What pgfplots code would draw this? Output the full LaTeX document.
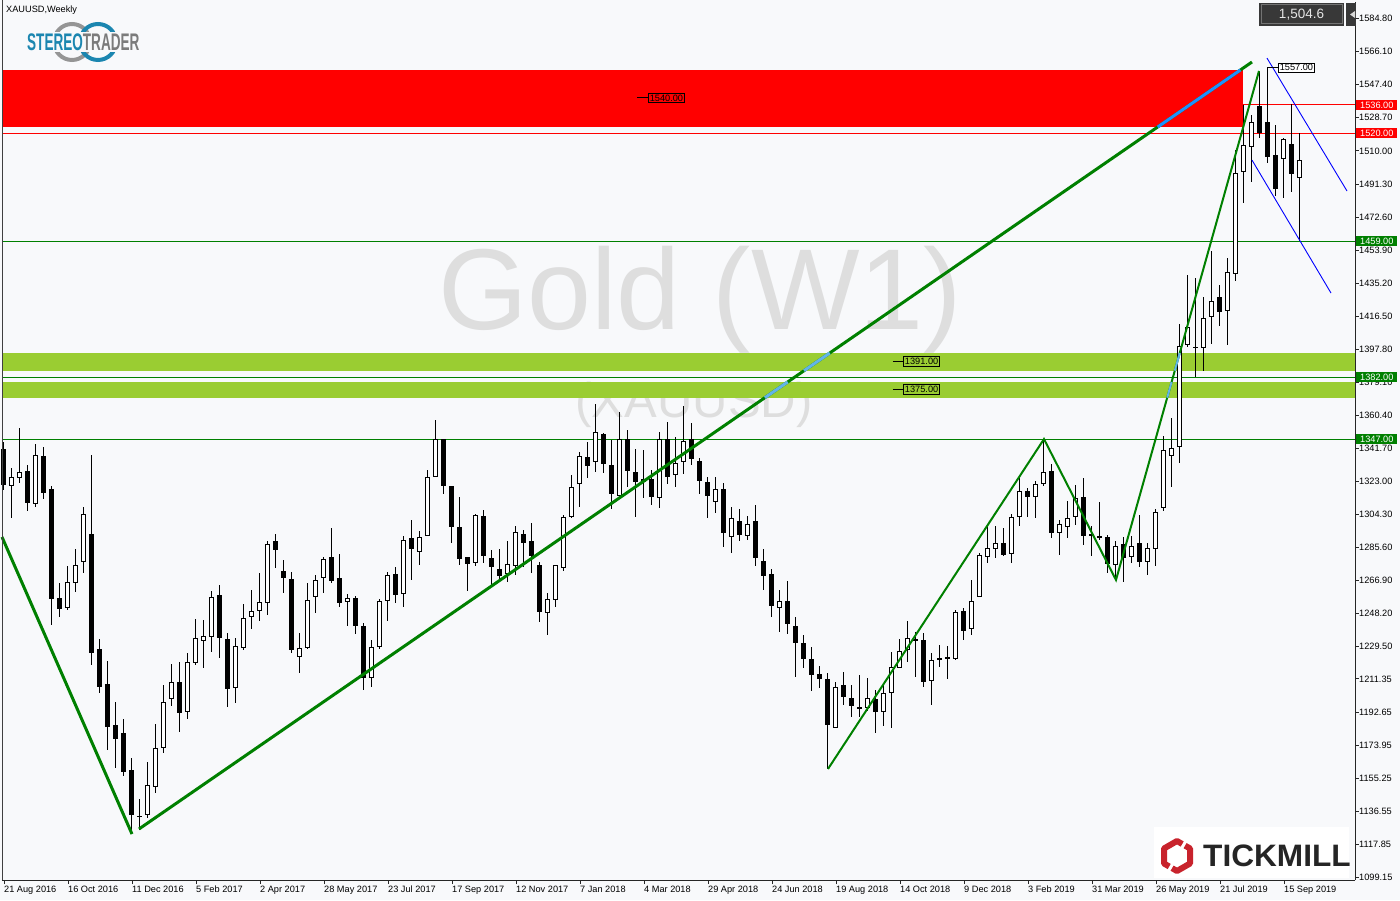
\documentclass[border=0pt]{standalone}
\usepackage{pgfplots}
\pgfplotsset{compat=1.18}
\usepackage{pgfplotstable}
\usepackage{fontspec}
\setmainfont{Liberation Sans}

\definecolor{bg}{HTML}{F8F9FB}
\definecolor{trend}{HTML}{008000}
\definecolor{zone}{HTML}{FF0000}
\definecolor{band}{HTML}{9ACD32}
\definecolor{xorblue}{HTML}{1E90FF}
\definecolor{xorlight}{HTML}{62B4E8}
\definecolor{wm}{HTML}{DEDEDE}
\definecolor{stblue}{HTML}{1B86B0}
\definecolor{stgray}{HTML}{7B7B7B}
\definecolor{tmred}{HTML}{C8232C}
\definecolor{tmtext}{HTML}{252525}
\newcommand\tickfont{\fontsize{9.2}{11}\selectfont}
\pgfplotsset{candle/.style={only marks, mark=none, mark size=0pt,
  mark options={draw=none, fill=none, opacity=0}, forget plot}}

% weekly XAUUSD candles, bar index from the week of 21 Aug 2016
\pgfplotstableread{
i o h l c
0 1341.2 1345.5 1318.2 1321.0
1 1320.6 1330.5 1302.5 1325.4
2 1324.8 1353.1 1322.0 1328.2
3 1328.9 1332.3 1306.5 1310.7
4 1310.1 1344.2 1308.4 1338.0
5 1337.4 1342.3 1313.1 1316.3
6 1318.8 1320.5 1241.8 1256.6
7 1257.0 1265.8 1246.5 1251.0
8 1251.6 1275.2 1250.3 1266.3
9 1265.4 1284.7 1260.7 1275.6
10 1277.6 1308.4 1271.4 1304.4
11 1293.3 1338.0 1219.2 1226.2
12 1228.3 1233.9 1203.5 1207.0
13 1208.5 1221.6 1171.1 1184.3
14 1185.3 1198.5 1161.1 1177.5
15 1180.6 1188.7 1156.6 1158.9
16 1159.8 1166.4 1124.0 1134.4
17 1134.0 1143.4 1125.9 1133.4
18 1134.4 1164.5 1132.5 1151.3
19 1150.4 1185.8 1146.6 1172.1
20 1172.1 1207.9 1169.3 1198.1
21 1199.8 1219.6 1196.2 1209.4
22 1209.4 1221.1 1181.1 1191.9
23 1192.5 1225.8 1188.7 1220.7
24 1220.2 1245.2 1219.2 1234.3
25 1233.0 1244.6 1217.3 1235.5
26 1235.2 1261.1 1226.7 1257.5
27 1258.6 1264.3 1223.3 1234.7
28 1233.8 1237.1 1195.6 1205.5
29 1206.0 1234.7 1197.9 1230.0
30 1229.0 1253.7 1227.7 1245.6
31 1246.5 1261.6 1239.8 1249.8
32 1250.0 1271.4 1244.3 1254.9
33 1254.1 1289.3 1247.5 1287.6
34 1289.3 1293.3 1274.2 1284.3
35 1272.4 1278.6 1260.1 1268.6
36 1267.9 1271.6 1226.2 1227.7
37 1223.6 1237.1 1214.9 1228.7
38 1228.7 1265.8 1228.1 1256.0
39 1257.5 1270.1 1248.4 1267.3
40 1268.2 1280.5 1259.8 1279.2
41 1280.3 1296.8 1265.4 1266.9
42 1268.3 1282.0 1251.9 1254.1
43 1254.7 1259.4 1241.4 1257.3
44 1257.0 1258.2 1236.6 1241.4
45 1241.4 1243.0 1205.0 1212.0
46 1212.0 1233.3 1206.5 1229.2
47 1229.6 1256.5 1228.1 1255.4
48 1255.6 1272.0 1244.3 1270.1
49 1270.7 1274.8 1254.4 1258.8
50 1259.2 1292.2 1251.9 1290.1
51 1291.0 1301.2 1267.3 1284.6
52 1283.3 1295.0 1275.9 1291.6
53 1292.3 1329.5 1292.3 1325.4
54 1325.4 1357.8 1325.4 1346.9
55 1346.9 1346.9 1315.9 1320.6
56 1320.5 1320.5 1288.4 1297.4
57 1297.3 1314.4 1275.8 1279.2
58 1280.1 1280.1 1261.0 1276.3
59 1277.1 1304.4 1275.4 1304.1
60 1303.5 1306.9 1277.1 1281.0
61 1279.6 1284.3 1263.5 1274.5
62 1273.3 1284.8 1266.3 1269.6
63 1270.7 1289.3 1266.3 1276.2
64 1275.4 1297.8 1270.1 1294.6
65 1293.1 1295.6 1274.8 1288.4
66 1289.3 1299.7 1271.1 1281.0
67 1275.8 1277.5 1243.7 1249.0
68 1248.5 1260.0 1236.4 1256.5
69 1256.0 1276.0 1252.0 1275.5
70 1273.9 1304.0 1272.5 1303.1
71 1303.1 1326.7 1302.2 1319.7
72 1321.4 1339.9 1308.4 1337.6
73 1336.7 1345.5 1324.8 1331.8
74 1333.9 1366.8 1328.5 1350.8
75 1349.9 1350.5 1327.6 1332.9
76 1332.3 1346.4 1307.3 1315.9
77 1314.8 1362.1 1314.0 1347.0
78 1346.9 1352.1 1320.1 1329.1
79 1328.2 1341.2 1303.1 1322.6
80 1324.2 1340.8 1313.5 1322.9
81 1324.2 1329.5 1309.7 1314.1
82 1313.5 1350.8 1307.8 1347.0
83 1347.0 1356.8 1321.6 1325.4
84 1326.7 1348.3 1320.1 1333.3
85 1333.9 1365.7 1327.3 1345.9
86 1347.0 1355.9 1332.3 1335.7
87 1334.6 1336.1 1315.8 1323.5
88 1322.6 1325.4 1302.2 1315.0
89 1311.6 1325.4 1305.0 1318.8
90 1318.6 1322.3 1285.8 1293.7
91 1291.4 1308.4 1282.4 1302.2
92 1300.7 1307.3 1289.5 1292.9
93 1292.4 1303.5 1290.0 1298.8
94 1300.7 1309.7 1275.2 1279.9
95 1278.0 1284.6 1261.6 1269.7
96 1270.5 1273.3 1246.5 1252.8
97 1251.6 1261.6 1237.9 1255.2
98 1255.2 1266.7 1236.8 1242.2
99 1241.3 1246.2 1212.3 1231.8
100 1231.8 1236.2 1217.7 1222.8
101 1222.6 1229.2 1204.7 1213.7
102 1213.9 1218.6 1206.4 1211.3
103 1211.3 1214.5 1160.2 1185.3
104 1183.8 1209.4 1183.4 1206.6
105 1207.9 1215.2 1196.6 1201.3
106 1200.7 1207.9 1190.0 1196.2
107 1195.5 1213.6 1190.0 1194.2
108 1194.7 1211.7 1193.2 1200.4
109 1200.0 1205.1 1180.9 1192.5
110 1192.5 1208.5 1184.9 1203.2
111 1203.2 1226.7 1183.4 1218.3
112 1217.7 1233.9 1217.3 1227.1
113 1227.7 1244.1 1220.8 1234.3
114 1233.9 1237.7 1212.6 1232.9
115 1233.3 1237.1 1207.0 1209.8
116 1210.3 1226.2 1196.6 1222.0
117 1223.3 1230.5 1218.3 1222.2
118 1223.9 1230.0 1211.3 1222.8
119 1222.4 1250.3 1222.0 1249.0
120 1249.9 1251.3 1233.3 1238.6
121 1239.4 1267.3 1236.2 1255.6
122 1257.5 1282.7 1257.5 1281.4
123 1280.5 1298.8 1277.1 1285.2
124 1284.6 1297.8 1279.9 1288.0
125 1288.0 1296.5 1280.9 1281.4
126 1281.8 1304.4 1277.1 1302.8
127 1303.1 1326.7 1297.8 1317.8
128 1317.8 1319.2 1303.1 1314.4
129 1314.4 1323.3 1302.5 1321.4
130 1321.4 1347.0 1320.6 1328.2
131 1329.1 1332.7 1290.9 1293.7
132 1293.7 1301.2 1281.4 1298.8
133 1297.4 1312.0 1290.9 1302.2
134 1302.8 1321.0 1298.4 1313.5
135 1314.1 1324.8 1287.1 1292.3
136 1293.3 1297.8 1281.0 1292.0
137 1292.0 1311.2 1289.9 1290.9
138 1291.4 1292.7 1271.4 1276.2
139 1275.8 1289.3 1267.3 1286.5
140 1287.5 1291.8 1266.3 1279.6
141 1280.5 1292.2 1277.1 1286.5
142 1288.0 1304.1 1274.8 1277.6
143 1277.6 1288.4 1270.1 1285.2
144 1284.6 1307.3 1275.4 1305.9
145 1307.8 1348.7 1306.5 1340.8
146 1337.4 1359.1 1320.1 1341.8
147 1342.3 1412.1 1333.3 1399.6
148 1400.2 1439.8 1398.9 1410.2
149 1399.2 1437.9 1382.3 1398.7
150 1398.7 1427.5 1385.7 1415.3
151 1415.9 1453.4 1400.6 1425.1
152 1427.5 1434.1 1411.1 1418.7
153 1419.4 1449.2 1400.2 1441.3
154 1440.2 1510.5 1436.6 1497.3
155 1497.9 1535.9 1480.3 1513.3
156 1512.4 1530.3 1492.6 1526.2
157 1535.4 1555.2 1517.1 1520.3
158 1526.3 1557.3 1503.0 1506.4
159 1507.7 1524.6 1484.5 1488.3
160 1505.2 1517.4 1483.2 1516.5
161 1513.9 1536.3 1486.9 1496.8
162 1494.5 1519.9 1459.0 1504.6
}\candles

\begin{document}
\begin{tikzpicture}
\useasboundingbox (0,0) rectangle (1400pt,900pt);
\fill[bg] (0,0) rectangle (1400pt,900pt);

\begin{axis}[
  at={(2pt,20pt)}, anchor=south west,
  scale only axis, width=1353pt, height=878pt,
  xmin=-0.25, xmax=168.875, ymin=1097.6, ymax=1594.21,
  axis x line*=bottom, axis y line*=right,
  axis line style={black!85, line width=0.8pt},
  tick align=outside, major tick length=4pt,
  tick style={black!85, line width=0.8pt},
  clip=false,
  xtick={0,8,...,160},
  xticklabels={21 Aug 2016,16 Oct 2016,11 Dec 2016,5 Feb 2017,2 Apr 2017,28 May 2017,23 Jul 2017,17 Sep 2017,12 Nov 2017,7 Jan 2018,4 Mar 2018,29 Apr 2018,24 Jun 2018,19 Aug 2018,14 Oct 2018,9 Dec 2018,3 Feb 2019,31 Mar 2019,26 May 2019,21 Jul 2019,15 Sep 2019},
  xticklabel style={anchor=north west, inner sep=0pt, yshift=-1.5pt, font=\tickfont},
  ytick={1099.15,1117.85,1136.55,1155.25,1173.95,1192.65,1211.35,1229.50,1248.20,1266.90,1285.60,1304.30,1323.00,1341.70,1360.40,1379.10,1397.80,1416.50,1435.20,1453.90,1472.60,1491.30,1510.00,1528.70,1547.40,1566.10,1584.80},
  yticklabels={1099.15,1117.85,1136.55,1155.25,1173.95,1192.65,1211.35,1229.50,1248.20,1266.90,1285.60,1304.30,1323.00,1341.70,1360.40,1379.10,1397.80,1416.50,1435.20,1453.90,1472.60,1491.30,1510.00,1528.70,1547.40,1566.10,1584.80},
  yticklabel style={anchor=west, inner sep=0pt, font=\tickfont},
]

% watermark
\node[wm, font=\fontsize{115}{115}\selectfont] at (axis cs:87,1425.6) {Gold (W1)};
\node[wm, font=\fontsize{49}{49}\selectfont] at (axis cs:86.25,1366.3) {(XAUUSD)};

% zones
\fill[zone] (axis cs:-0.25,1523.5) rectangle (axis cs:154.875,1555.75);
\fill[band] (axis cs:-0.25,1385.7) rectangle (axis cs:168.875,1395.7);
\fill[band] (axis cs:-0.25,1370.4) rectangle (axis cs:168.875,1379.3);

% horizontal levels
\draw[zone, line width=1pt] (axis cs:-0.25,1536) -- (axis cs:168.875,1536);
\draw[zone, line width=1pt] (axis cs:-0.25,1520) -- (axis cs:168.875,1520);
\draw[trend, line width=1pt] (axis cs:-0.25,1459) -- (axis cs:168.875,1459);
\draw[trend, line width=1pt] (axis cs:-0.25,1382) -- (axis cs:168.875,1382);
\draw[trend, line width=1pt] (axis cs:-0.25,1347) -- (axis cs:168.875,1347);

% wicks
\addplot[candle,
  error bars/.cd, y dir=both, y explicit, error mark=none,
  error bar style={line width=1pt, black}]
  table[x=i, y expr={(\thisrow{h}+\thisrow{l})/2}, y error expr={(\thisrow{h}-\thisrow{l})/2}] {\candles};
% bodies
\addplot[candle,
  error bars/.cd, y dir=both, y explicit, error mark=none,
  error bar style={line width=5pt, black}]
  table[x=i, y expr={(\thisrow{o}+\thisrow{c})/2}, y error expr={max(abs(\thisrow{c}-\thisrow{o})/2,0.3)}] {\candles};
% hollow bodies of rising weeks
\addplot[candle,
  restrict expr to domain={\thisrow{c}-\thisrow{o}}{0.01:1000},
  error bars/.cd, y dir=both, y explicit, error mark=none,
  error bar style={line width=3pt, white}]
  table[x=i, y expr={(\thisrow{o}+\thisrow{c})/2}, y error expr={max(abs(\thisrow{c}-\thisrow{o})/2-0.5656,0)}] {\candles};

% trend lines
\draw[trend, line width=3pt] (axis cs:-0.25,1291.6) -- (axis cs:16,1123.6);
\draw[trend, line width=3pt] (axis cs:16.875,1126.45) -- (axis cs:156,1560.27);
\draw[xorblue, line width=3pt] (axis cs:144.21,1523.51) -- (axis cs:154.55,1555.75);
\draw[xorlight, line width=3pt] (axis cs:95.11,1370.40) -- (axis cs:97.96,1379.28);
\draw[xorlight, line width=3pt] (axis cs:100.0,1385.67) -- (axis cs:103.22,1395.68);
\draw[trend, line width=2pt, line join=miter] (axis cs:103,1160.4) -- (axis cs:130,1347.0) -- (axis cs:139,1267.3) -- (axis cs:156.875,1555.2);
\draw[xorlight, line width=2pt] (axis cs:145.40,1370.40) -- (axis cs:145.95,1379.28);
\draw[xorlight, line width=2pt] (axis cs:146.35,1385.67) -- (axis cs:146.97,1395.68);

% channel
\draw[blue, line width=0.9pt] (axis cs:157.875,1562.5) -- (axis cs:167.875,1487.3);
\draw[blue, line width=0.9pt] (axis cs:156,1504.8) -- (axis cs:165.875,1429.6);

% price labels on chart
\draw[black, line width=0.7pt] (axis cs:79.1,1540) -- (axis cs:80.5,1540)
  node[anchor=west, draw=black, line width=0.6pt, inner xsep=1.5pt, inner ysep=1.5pt, font=\tickfont] {1540.00};
\draw[black, line width=0.7pt] (axis cs:111.1,1391) -- (axis cs:112.4,1391)
  node[anchor=west, draw=black, line width=0.6pt, inner xsep=1.5pt, inner ysep=1.5pt, font=\tickfont] {1391.00};
\draw[black, line width=0.7pt] (axis cs:111.1,1375) -- (axis cs:112.4,1375)
  node[anchor=west, draw=black, line width=0.6pt, inner xsep=1.5pt, inner ysep=1.5pt, font=\tickfont] {1375.00};
\draw[black, line width=0.7pt] (axis cs:157.9,1557) -- (axis cs:159.25,1557)
  node[anchor=west, fill=white, draw=black, line width=0.6pt, inner xsep=1.5pt, inner ysep=1.5pt, font=\tickfont] {1557.00};

\coordinate (r1536) at (axis cs:168.875,1536);
\coordinate (r1520) at (axis cs:168.875,1520);
\coordinate (r1459) at (axis cs:168.875,1459);
\coordinate (r1382) at (axis cs:168.875,1382);
\coordinate (r1347) at (axis cs:168.875,1347);
\end{axis}

% left frame line
\draw[black!75, line width=1pt] (2pt,20pt) -- (2pt,900pt);

% level tags on the price scale
\foreach \n/\col/\t in {r1536/zone/1536.00, r1520/zone/1520.00, r1459/trend/1459.00, r1382/trend/1382.00, r1347/trend/1347.00}
  \node[fill=\col, text=white, anchor=west, inner xsep=4pt, inner ysep=2pt, text height=6.6pt, text depth=0pt, font=\tickfont] at ([xshift=1pt]\n) {\t};

% current price box
\fill[black!78] (1259pt,874pt) rectangle (1344pt,897pt);
\draw[black!55, line width=1pt] (1261pt,876pt) rectangle (1342pt,895pt);
\node[text=black!10, font=\fontsize{13.5}{14}\selectfont] at (1301.5pt,885.5pt) {1,504.6};
\fill[black!78] (1346pt,874pt) rectangle (1356pt,897pt);
\fill[black!15] (1350pt,885.5pt) -- (1355pt,889pt) -- (1355pt,882pt) -- cycle;

% symbol caption
\node[anchor=west, inner sep=0pt, font=\tickfont] at (6pt,889.5pt) {XAUUSD,Weekly};

% StereoTrader logo
\draw[stgray!80, line width=4pt] (72pt,858pt) circle (18pt);
\draw[stblue, line width=4pt] (98pt,858pt) circle (18pt);
\fill[bg] (26pt,848pt) rectangle (140pt,868pt);
\node[anchor=west, inner sep=0pt, font=\bfseries\fontsize{24}{24}\selectfont] at (27pt,858pt)
  {\scalebox{0.565}[1]{\textcolor{stblue}{STEREO}\textcolor{stgray}{TRADER}}};

% Tickmill logo
\fill[white] (1154pt,22pt) rectangle (1349pt,73pt);
\draw[tmred, line width=6pt, line join=round] (1182.2pt,56.0pt) -- (1177pt,59pt) -- (1164pt,51.5pt) -- (1164pt,36.5pt) -- (1169.2pt,33.5pt);
\draw[tmred, line width=6pt, line join=round] (1172.1pt,31.85pt) -- (1177pt,29pt) -- (1190pt,36.5pt) -- (1190pt,51.5pt) -- (1185.1pt,54.35pt);
\node[anchor=west, inner sep=0pt, text=tmtext, font=\bfseries\fontsize{31}{31}\selectfont] at (1203pt,44pt) {\scalebox{1.02}[1]{TICKMILL}};

\end{tikzpicture}
\end{document}
